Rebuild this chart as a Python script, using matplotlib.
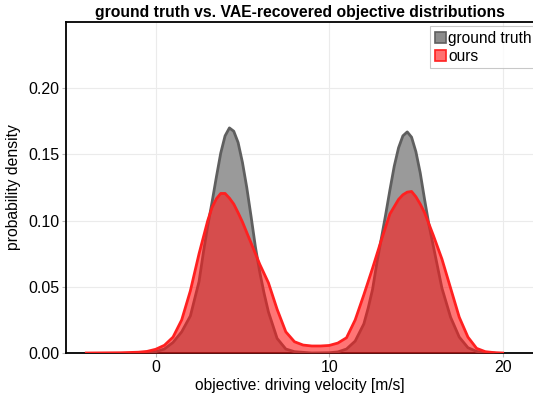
import numpy as np
import matplotlib
matplotlib.use('Agg')
import matplotlib.pyplot as plt
from matplotlib.patches import Patch

plt.rcParams['font.family'] = ['Liberation Sans', 'DejaVu Sans']

# ground truth density
gt_x = [-1.0, 0.0, 0.5, 1.0, 1.5, 2.0, 2.5, 2.75, 3.0, 3.25, 3.5, 3.75, 4.0, 4.25,
        4.5, 4.75, 5.0, 5.25, 5.5, 5.75, 6.0, 6.25, 6.5, 7.0, 7.5, 8.0, 9.0,
        10.0, 10.5, 11.0, 11.5, 12.0, 12.25, 12.5, 12.75, 13.0, 13.25, 13.5, 13.75,
        14.0, 14.25, 14.5, 14.75, 15.0, 15.25, 15.5, 15.75, 16.0, 16.25, 16.5,
        17.0, 17.5, 18.0, 18.5, 19.0, 19.5]
gt_y = [0.0, 0.001, 0.003, 0.008, 0.016, 0.028, 0.054, 0.076, 0.096, 0.114, 0.133, 0.151, 0.164, 0.170,
        0.1675, 0.159, 0.144, 0.125, 0.103, 0.080, 0.061, 0.045, 0.031, 0.011, 0.003, 0.001, 0.0,
        0.0002, 0.0008, 0.003, 0.009, 0.022, 0.034, 0.048, 0.068, 0.086, 0.104, 0.123, 0.141,
        0.155, 0.164, 0.167, 0.163, 0.152, 0.136, 0.116, 0.097, 0.081, 0.065, 0.049,
        0.027, 0.012, 0.004, 0.0012, 0.0003, 0.0]

# VAE-recovered density ("ours")
ours_x = [-4.0, -3.0, -2.0, -1.0, -0.5, 0.0, 0.5, 1.0, 1.5, 2.0, 2.5, 3.0, 3.25, 3.5, 3.75,
          4.0, 4.25, 4.5, 4.75, 5.0, 5.5, 6.0, 6.5, 7.0, 7.5, 8.0, 8.5, 9.0, 9.5, 10.0,
          10.5, 11.0, 11.5, 12.0, 12.5, 13.0, 13.5, 14.0, 14.25, 14.5, 14.75, 15.0, 15.25,
          15.5, 16.0, 16.5, 17.0, 17.5, 18.0, 18.5, 19.0, 19.5, 20.0]
ours_y = [0.0, 0.0001, 0.0002, 0.0006, 0.0012, 0.0028, 0.0058, 0.012, 0.025, 0.047, 0.075, 0.100, 0.110, 0.1165, 0.1205,
          0.1205, 0.117, 0.1125, 0.106, 0.099, 0.083, 0.067, 0.053, 0.033, 0.016, 0.0085, 0.006, 0.0053, 0.0053, 0.0057,
          0.0075, 0.0115, 0.025, 0.044, 0.064, 0.085, 0.105, 0.116, 0.1195, 0.1215, 0.122, 0.118, 0.1125,
          0.106, 0.089, 0.071, 0.049, 0.027, 0.012, 0.0035, 0.001, 0.0003, 0.0]

gt_fill, gt_line = '#9a9a9a', '#5f5f5f'
ours_fill, ours_line = '#ff1a1a', '#ff2020'

fig = plt.figure(figsize=(5.33, 4.03), dpi=100)
ax = fig.add_axes([66 / 533, 50 / 403, 1 - 66 / 533, 331 / 403])

ax.fill_between(gt_x, gt_y, color=gt_fill, lw=0, zorder=2)
ax.plot(gt_x, gt_y, color=gt_line, lw=2, zorder=3, solid_joinstyle='round')
ax.fill_between(ours_x, ours_y, color=ours_fill, alpha=0.6, lw=0, zorder=4)
ax.plot(ours_x, ours_y, color=ours_line, lw=2, zorder=5, solid_joinstyle='round')

ax.set_xlim(-5.17, 21.75)
ax.set_ylim(0, 0.25)
ax.set_xticks([0, 10, 20])
ax.set_yticks([0.0, 0.05, 0.10, 0.15, 0.20])
ax.set_yticklabels(['0.00', '0.05', '0.10', '0.15', '0.20'])
ax.grid(True, color='#ebebeb', lw=0.8, zorder=0)
ax.set_axisbelow(True)
ax.tick_params(labelsize=11.5, length=3, width=0.8, color='#bbbbbb', pad=2)

for s in ['left', 'bottom', 'top']:
    ax.spines[s].set_linewidth(1.3)
ax.spines['right'].set_visible(False)

ax.set_xlabel('objective: driving velocity [m/s]', fontsize=11.2, labelpad=2)
ax.set_ylabel('probability density', fontsize=11.3, labelpad=5)
ax.set_title('ground truth vs. VAE-recovered objective distributions',
             fontsize=11.3, fontweight='bold', pad=3.5)

handles = [Patch(facecolor='#8c8c8c', edgecolor=gt_line, lw=1.2, label='ground truth'),
           Patch(facecolor='#ff7070', edgecolor=ours_line, lw=1.2, label='ours')]
leg = ax.legend(handles=handles, loc='upper left', bbox_to_anchor=(430 / 533, 1 - 26 / 403),
                bbox_transform=fig.transFigure, fontsize=11.2, frameon=True, fancybox=False,
                handlelength=0.7, handleheight=0.7, handletextpad=0.15, borderpad=0.3,
                labelspacing=0.2, borderaxespad=0)
leg.get_frame().set_edgecolor('#bbbbbb')
leg.get_frame().set_linewidth(0.8)

fig.savefig('out.png', dpi=100)
